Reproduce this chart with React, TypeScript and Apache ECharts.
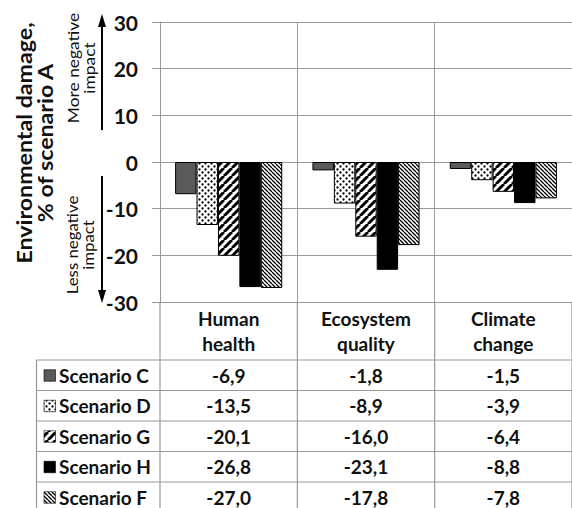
import React, { useEffect, useRef } from 'react';
import * as echarts from 'echarts';

const categories = ['Human\nhealth', 'Ecosystem\nquality', 'Climate\nchange'];
const seriesNames = ['Scenario C', 'Scenario D', 'Scenario G', 'Scenario H', 'Scenario F'];
const scenarioC = [-6.9, -1.8, -1.5];
const scenarioD = [-13.5, -8.9, -3.9];
const scenarioG = [-20.1, -16.0, -6.4];
const scenarioH = [-26.8, -23.1, -8.8];
const scenarioF = [-27.0, -17.8, -7.8];
const seriesValues = [scenarioC, scenarioD, scenarioG, scenarioH, scenarioF];
const yMin = -30;
const yMax = 30;
const yInterval = 10;
const yTitle = 'Environmental damage,\n% of scenario A';
const upLabel = 'More negative\nimpact';
const downLabel = 'Less negative\nimpact';

const FONT = 'Lato';
const GRID = '#9a9a9a';

function tile(size: number, draw: (ctx: CanvasRenderingContext2D, s: number) => void) {
  const c = document.createElement('canvas');
  c.width = size;
  c.height = size;
  const ctx = c.getContext('2d') as CanvasRenderingContext2D;
  ctx.fillStyle = '#fff';
  ctx.fillRect(0, 0, size, size);
  ctx.fillStyle = '#000';
  ctx.strokeStyle = '#000';
  draw(ctx, size);
  return { image: c.toDataURL(), repeat: 'repeat', imageWidth: size, imageHeight: size } as any;
}

function makeFills() {
  const dots = tile(6, (ctx) => {
    const pts = [[1.5, 1.5], [4.5, 4.5]];
    pts.forEach(([x, y]) => {
      ctx.beginPath();
      ctx.arc(x, y, 1.15, 0, Math.PI * 2);
      ctx.fill();
    });
  });
  const wide = tile(8, (ctx, s) => {
    ctx.lineWidth = 3;
    ctx.beginPath();
    for (let k = -1; k <= 1; k++) {
      ctx.moveTo(k * s, s);
      ctx.lineTo(k * s + s, 0);
    }
    ctx.stroke();
  });
  const dense = tile(4, (ctx, s) => {
    ctx.lineWidth = 1.3;
    ctx.beginPath();
    for (let k = -1; k <= 1; k++) {
      ctx.moveTo(k * s, 0);
      ctx.lineTo(k * s + s, s);
    }
    ctx.stroke();
  });
  return ['#5a5a5a', dots, wide, '#000000', dense];
}

function fmt(v: number) {
  return v.toFixed(1).replace('.', ',');
}

export default function App() {
  const ref = useRef<HTMLDivElement>(null);
  useEffect(() => {
    if (!ref.current) return;
    const chart = echarts.init(ref.current, null, { renderer: 'svg' });
    const fills = makeFills();
    chart.setOption({
      animation: false,
      grid: { left: 160, top: 22, height: 280, right: -9 },
      xAxis: {
        type: 'category',
        data: categories,
        position: 'bottom',
        axisLine: { show: false, onZero: false },
        axisTick: { show: false },
        splitLine: { show: true, interval: 0, lineStyle: { color: GRID, width: 1 } },
        axisLabel: {
          interval: 0,
          margin: 4,
          fontFamily: FONT,
          fontWeight: 'bold',
          fontSize: 19,
          lineHeight: 25,
          color: '#111',
        },
      },
      yAxis: {
        type: 'value',
        min: yMin,
        max: yMax,
        interval: yInterval,
        axisLine: { show: true, lineStyle: { color: GRID } },
        axisTick: { show: true, length: 8, lineStyle: { color: GRID } },
        splitLine: { show: true, lineStyle: { color: GRID, width: 1 } },
        axisLabel: {
          margin: 22,
          fontFamily: FONT,
          fontWeight: 'bold',
          fontSize: 21,
          color: '#111',
        },
      },
      series: seriesNames.map((name, i) => ({
        name,
        type: 'bar',
        data: seriesValues[i],
        barGap: '0%',
        barCategoryGap: '22%',
        itemStyle: { color: fills[i], borderColor: '#000', borderWidth: 1 },
      })),
    });

    const colX = categories.map((_, i) => chart.convertToPixel({ xAxisIndex: 0 }, i) as number);
    const yBottom = chart.convertToPixel({ yAxisIndex: 0 }, yMin) as number;
    const yTop = chart.convertToPixel({ yAxisIndex: 0 }, yMax) as number;
    const catW = colX.length > 1 ? colX[1] - colX[0] : 140;
    const boundaries = [0, 1, 2, 3].map((k) => colX[0] - catW / 2 + k * catW);
    const tableTop = 360;
    const rowH = 30.5;
    const tableLeft = 36.5;
    const W = 572;
    const H = 508;
    const els: any[] = [];
    const ls = { stroke: GRID, lineWidth: 1.2 };
    boundaries.forEach((bx) => {
      els.push({ type: 'line', shape: { x1: bx, y1: yBottom, x2: bx, y2: H }, style: ls, silent: true });
    });
    els.push({ type: 'line', shape: { x1: tableLeft, y1: tableTop, x2: tableLeft, y2: H }, style: ls });
    for (let r = 0; r <= seriesNames.length; r++) {
      const y = tableTop + r * rowH;
      els.push({ type: 'line', shape: { x1: tableLeft, y1: y, x2: W, y2: y }, style: ls });
    }
    seriesNames.forEach((name, r) => {
      const cy = tableTop + r * rowH + rowH / 2;
      els.push({
        type: 'rect',
        shape: { x: 44, y: cy - 5.5, width: 11.5, height: 11.5 },
        style: { fill: fills[r], stroke: '#000', lineWidth: 0.6 },
      });
      els.push({
        type: 'text',
        x: 59,
        y: cy,
        style: {
          text: name,
          fontFamily: FONT,
          fontWeight: 'bold',
          fontSize: 19,
          fill: '#111',
          align: 'left',
          verticalAlign: 'middle',
        },
      });
      seriesValues[r].forEach((v, c) => {
        els.push({
          type: 'text',
          x: colX[c],
          y: cy,
          style: {
            text: fmt(v),
            fontFamily: FONT,
            fontWeight: 'bold',
            fontSize: 19,
            fill: '#111',
            align: 'center',
            verticalAlign: 'middle',
          },
        });
      });
    });
    els.push({
      type: 'text',
      x: 35,
      y: 143,
      rotation: Math.PI / 2,
      scaleX: 1.16,
      style: {
        text: yTitle,
        fontFamily: FONT,
        fontWeight: 'bold',
        fontSize: 20,
        lineHeight: 21,
        fill: '#111',
        align: 'center',
        verticalAlign: 'middle',
      },
    });
    const arrowX = 102;
    els.push({ type: 'line', shape: { x1: arrowX, y1: 130, x2: arrowX, y2: 24 }, style: { stroke: '#000', lineWidth: 2 } });
    els.push({ type: 'polygon', shape: { points: [[arrowX, yTop - 8], [arrowX - 4, yTop + 5], [arrowX + 4, yTop + 5]] }, style: { fill: '#000' } });
    els.push({ type: 'line', shape: { x1: arrowX, y1: 176, x2: arrowX, y2: 292 }, style: { stroke: '#000', lineWidth: 2 } });
    els.push({ type: 'polygon', shape: { points: [[arrowX, yBottom + 1], [arrowX - 4, yBottom - 12], [arrowX + 4, yBottom - 12]] }, style: { fill: '#000' } });
    els.push({
      type: 'text',
      x: 81,
      y: 68,
      rotation: Math.PI / 2,
      scaleX: 1.16,
      style: {
        text: upLabel,
        fontFamily: FONT,
        fontSize: 15,
        lineHeight: 16,
        fill: '#111',
        align: 'center',
        verticalAlign: 'middle',
      },
    });
    els.push({
      type: 'text',
      x: 80,
      y: 245,
      rotation: Math.PI / 2,
      scaleX: 1.12,
      style: {
        text: downLabel,
        fontFamily: FONT,
        fontSize: 15,
        lineHeight: 16,
        fill: '#111',
        align: 'center',
        verticalAlign: 'middle',
      },
    });
    chart.setOption({ graphic: { elements: els } });
    return () => chart.dispose();
  }, []);
  return (
    <div
      ref={ref}
      style={{ position: 'fixed', left: 0, top: 0, width: 572, height: 508, background: '#fff', overflow: 'hidden' }}
    />
  );
}
